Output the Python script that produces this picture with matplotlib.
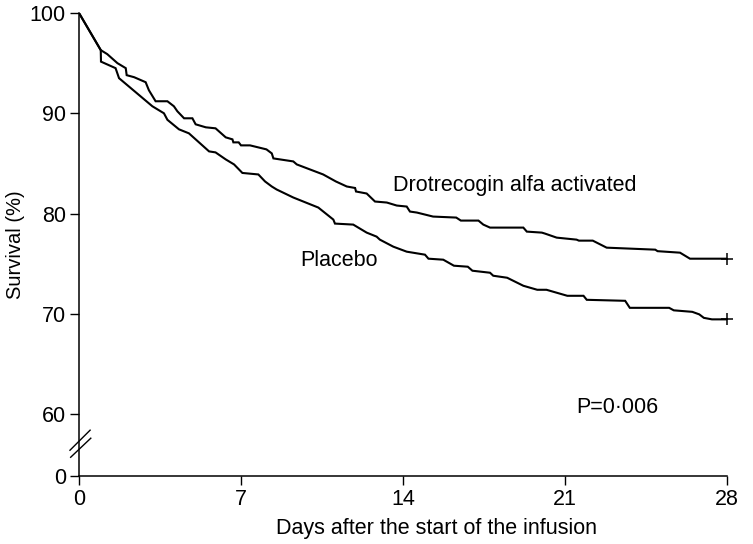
import matplotlib
matplotlib.use('Agg')
import matplotlib.pyplot as plt

# traced Kaplan-Meier paths (days, survival %)
DROT_DAYS = [0, 0.94, 1.22, 1.66, 2.02, 2.06, 2.38, 2.88, 3.02, 3.31, 3.82, 4.1, 4.25, 4.54, 4.9,
             5.04, 5.48, 5.9, 6.34, 6.63, 6.67, 6.9, 7.0, 7.39, 8.1, 8.33, 8.4, 9.26, 9.41, 9.98,
             10.55, 11.1, 11.57, 11.93, 11.97, 12.43, 12.79, 13.3, 13.73, 14.16, 14.3, 14.6, 15.3,
             16.3, 16.5, 17.26, 17.47, 17.76, 19.2, 19.35, 20.0, 20.14, 20.64, 21.5, 21.6, 22.2,
             22.8, 24.9, 25.0, 25.97, 26.4, 28.0]
DROT_SURV = [100, 96.3, 95.9, 95.0, 94.5, 93.8, 93.6, 93.1, 92.3, 91.2, 91.2, 90.7, 90.2, 89.5, 89.5,
             88.9, 88.6, 88.5, 87.6, 87.4, 87.1, 87.1, 86.8, 86.8, 86.4, 86.0, 85.5, 85.2, 84.9, 84.4,
             83.9, 83.2, 82.7, 82.55, 82.2, 82.0, 81.2, 81.1, 80.8, 80.7, 80.2, 80.1, 79.7,
             79.6, 79.3, 79.3, 78.9, 78.6, 78.6, 78.2, 78.1, 78.0, 77.6, 77.4, 77.3, 77.3,
             76.6, 76.4, 76.25, 76.1, 75.5, 75.5]

PLAC_DAYS = [0, 0.94, 0.95, 1.58, 1.73, 3.17, 3.67, 3.82, 4.32, 4.75, 5.62, 5.9, 6.34, 6.7, 7.06,
             7.75, 8.04, 8.33, 8.54, 9.26, 10.34, 10.99, 11.06, 11.85, 12.43, 12.86, 13.0, 13.58,
             14.16, 14.95, 15.1, 15.74, 16.2, 16.8, 17.0, 17.76, 17.9, 18.5, 19.2, 19.8, 20.2,
             21.1, 21.8, 21.94, 23.6, 23.8, 25.5, 25.7, 26.5, 26.8, 27.0, 27.35, 28.0]
PLAC_SURV = [100, 96.3, 95.15, 94.5, 93.5, 90.7, 90.0, 89.35, 88.4, 88.0, 86.2, 86.1, 85.4, 84.9, 84.05,
             83.9, 83.2, 82.7, 82.4, 81.6, 80.6, 79.4, 79.0, 78.9, 78.1, 77.7, 77.4, 76.7,
             76.2, 75.9, 75.5, 75.4, 74.8, 74.7, 74.3, 74.1, 73.8, 73.6, 72.8, 72.4, 72.4,
             71.8, 71.8, 71.4, 71.3, 70.6, 70.6, 70.35, 70.2, 69.95, 69.6, 69.45, 69.45]

X_TICKS = [0, 7, 14, 21, 28]
Y_TICK_VALUES = [0, 60, 70, 80, 90, 100]
Y_ZERO_POS = 53.83  # where "0" sits below the axis break
FS = 15.5


def main():
    plt.rcParams['font.family'] = ['Liberation Sans', 'DejaVu Sans']
    fig = plt.figure(figsize=(7.53, 5.44), dpi=100)
    ax = fig.add_axes([79 / 753, 1 - 476 / 544, 648 / 753, 463 / 544])

    ax.plot(DROT_DAYS, DROT_SURV, color='black', linewidth=1.5, solid_joinstyle='miter')
    ax.plot(PLAC_DAYS, PLAC_SURV, color='black', linewidth=1.5, solid_joinstyle='miter')
    # censor marks at the end of follow-up
    ax.plot([DROT_DAYS[-1]], [DROT_SURV[-1]], marker='+', markersize=8, color='black', mew=1.1,
            clip_on=False)
    ax.plot([PLAC_DAYS[-1]], [PLAC_SURV[-1]], marker='+', markersize=8, color='black', mew=1.1,
            clip_on=False)

    ax.set_xlim(0, 28)
    ax.set_ylim(Y_ZERO_POS, 100)
    ax.set_xticks(X_TICKS)
    ax.set_xticklabels([str(t) for t in X_TICKS])
    ypos = [Y_ZERO_POS if v == 0 else v for v in Y_TICK_VALUES]
    ax.set_yticks(ypos)
    ax.set_yticklabels([str(v) for v in Y_TICK_VALUES])
    ax.tick_params(direction='out', length=6.5, width=1.0, labelsize=FS, pad=3, color='black')

    for side in ['top', 'right']:
        ax.spines[side].set_visible(False)
    for side in ['left', 'bottom']:
        ax.spines[side].set_linewidth(1.1)

    # axis break marks
    ax.plot([-0.39, 0.48], [56.4, 58.4], color='black', linewidth=1.0, clip_on=False)
    ax.plot([-0.36, 0.51], [55.7, 57.6], color='black', linewidth=1.0, clip_on=False)

    ax.text(13.57, 82.75, 'Drotrecogin alfa activated', fontsize=FS, va='center', ha='left')
    ax.text(9.55, 75.35, 'Placebo', fontsize=FS, va='center', ha='left')
    ax.text(21.5, 60.7, 'P=0\u00b7006', fontsize=FS, va='center', ha='left')

    ax.set_xlabel('Days after the start of the infusion', fontsize=FS)
    ax.xaxis.set_label_coords((436 - 79) / 648, -0.09)
    ax.set_ylabel('Survival (%)', fontsize=14.5)
    ax.yaxis.set_label_coords((25 - 79) / 648, 0.5)

    fig.savefig('out.png', dpi=100)
    plt.close(fig)


if __name__ == '__main__':
    main()
